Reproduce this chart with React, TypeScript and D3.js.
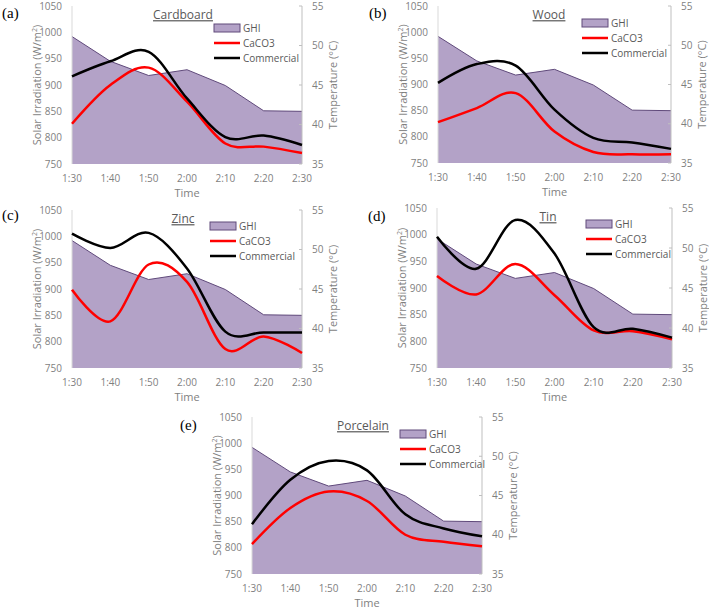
import React from "react";
import * as d3 from "d3";

const times = ["1:30", "1:40", "1:50", "2:00", "2:10", "2:20", "2:30"];
const ghi = [992, 945, 918, 929, 899, 851, 850];
const irrTicks = [750, 800, 850, 900, 950, 1000, 1050];
const tempTicks = [35, 40, 45, 50, 55];

const cardboardCaCO3 = [40.1, 45.0, 47.2, 42.9, 37.6, 37.2, 36.4];
const cardboardCommercial = [46.1, 48.0, 49.2, 43.3, 38.4, 38.6, 37.4];
const woodCaCO3 = [40.2, 42.0, 43.9, 39.0, 36.4, 36.1, 36.1];
const woodCommercial = [45.2, 47.6, 47.4, 41.8, 38.2, 37.6, 36.8];
const zincCaCO3 = [44.9, 40.9, 48.1, 45.9, 37.4, 39.0, 36.9];
const zincCommercial = [52.0, 50.2, 52.1, 47.6, 39.6, 39.5, 39.5];
const tinCaCO3 = [46.5, 44.2, 48.0, 44.1, 39.7, 39.6, 38.6];
const tinCommercial = [51.4, 47.4, 53.5, 49.3, 40.1, 39.9, 38.8];
const porcelainCaCO3 = [38.8, 43.4, 45.5, 44.3, 40.0, 39.1, 38.55];
const porcelainCommercial = [41.35, 47.0, 49.4, 48.2, 42.6, 40.8, 39.8];

const panels = [
  { tag: "(a)", title: "Cardboard", caco3: cardboardCaCO3, comm: cardboardCommercial,
    left: 72, top: 6, w: 230, h: 158, lab: [2, 18], leg: [214, 28] },
  { tag: "(b)", title: "Wood", caco3: woodCaCO3, comm: woodCommercial,
    left: 438, top: 6, w: 233, h: 157, lab: [369, 18], leg: [582, 23] },
  { tag: "(c)", title: "Zinc", caco3: zincCaCO3, comm: zincCommercial,
    left: 72, top: 210, w: 230, h: 158, lab: [2, 220], leg: [210, 226] },
  { tag: "(d)", title: "Tin", caco3: tinCaCO3, comm: tinCommercial,
    left: 437, top: 208, w: 235, h: 160, lab: [368, 221], leg: [586, 224] },
  { tag: "(e)", title: "Porcelain", caco3: porcelainCaCO3, comm: porcelainCommercial,
    left: 252, top: 417, w: 230, h: 157, lab: [180, 430], leg: [400, 434] },
];

const FONT = "'Open Sans', sans-serif";
const GRAY = "#7f7f7f";
const FILL = "#b3a2c7";
const EDGE = "#604a7b";

function Panel({ p }: { p: any }) {
  const x = d3.scalePoint<string>().domain(times).range([p.left, p.left + p.w]);
  const yI = d3.scaleLinear().domain([750, 1050]).range([p.top + p.h, p.top]);
  const yT = d3.scaleLinear().domain([35, 55]).range([p.top + p.h, p.top]);
  const area = d3
    .area<number>()
    .x((_, i) => x(times[i])!)
    .y0(yI(750))
    .y1((d) => yI(d));
  const top = d3
    .line<number>()
    .x((_, i) => x(times[i])!)
    .y((d) => yI(d));
  const smooth = d3
    .line<number>()
    .x((_, i) => x(times[i])!)
    .y((d) => yT(d))
    .curve(d3.curveCardinal.tension(0));
  const right = p.left + p.w;
  const bottom = p.top + p.h;
  const midY = p.top + p.h / 2;
  const [lx, ly] = p.leg;
  return (
    <g>
      <path d={area(ghi)!} fill={FILL} />
      <path d={top(ghi)!} fill="none" stroke={EDGE} strokeWidth={1} />
      <line x1={p.left} x2={p.left} y1={p.top} y2={bottom} stroke="#d9d9d9" strokeWidth={1} />
      <line x1={right} x2={right} y1={p.top} y2={bottom} stroke="#bfbfbf" strokeWidth={1} />
      {tempTicks.map((t) => (
        <line key={t} x1={right - 3} x2={right} y1={yT(t)} y2={yT(t)} stroke="#bfbfbf" />
      ))}
      <path d={smooth(p.caco3)!} fill="none" stroke="#ff0000" strokeWidth={2.5} />
      <path d={smooth(p.comm)!} fill="none" stroke="#000000" strokeWidth={2.5} />
      {irrTicks.map((t) => (
        <text key={t} x={p.left - 10} y={yI(t)} dy="0.35em" textAnchor="end" fontSize={10} fill={GRAY} fontFamily={FONT}>
          {t}
        </text>
      ))}
      {tempTicks.map((t) => (
        <text key={t} x={right + 10} y={yT(t)} dy="0.35em" textAnchor="start" fontSize={10} fill={GRAY} fontFamily={FONT}>
          {t}
        </text>
      ))}
      {times.map((t) => (
        <text key={t} x={x(t)} y={bottom + 17.5} textAnchor="middle" fontSize={10} fill={GRAY} fontFamily={FONT}>
          {t}
        </text>
      ))}
      <text x={(p.left + right) / 2} y={bottom + 32.5} textAnchor="middle" fontSize={11} fill={GRAY} fontFamily={FONT}>
        Time
      </text>
      <text
        transform={`translate(${p.left - 35},${midY}) rotate(-90)`}
        textAnchor="middle"
        dy="0.35em"
        fontSize={11}
        fill={GRAY}
        fontFamily={FONT}
      >
        Solar Irradiation (W/m<tspan dy={-4} fontSize={7}>2</tspan>
        <tspan dy={4}>)</tspan>
      </text>
      <text
        transform={`translate(${right + 31},${midY}) rotate(-90)`}
        textAnchor="middle"
        dy="0.35em"
        fontSize={11}
        fill={GRAY}
        fontFamily={FONT}
      >
        Temperature (°C)
      </text>
      <text x={p.left + 111} y={p.top + 9} dy="0.35em" textAnchor="middle" fontSize={12} fill="#595959" fontFamily={FONT} textDecoration="underline">
        {p.title}
      </text>
      <text x={p.lab[0]} y={p.lab[1]} fontSize={15} fill="#000" fontFamily="'Liberation Serif', serif">
        {p.tag}
      </text>
      <rect x={lx} y={ly - 4} width={26} height={8} fill={FILL} stroke={EDGE} strokeWidth={1} />
      <text x={lx + 29} y={ly} dy="0.35em" fontSize={10} fill="#595959" fontFamily={FONT}>GHI</text>
      <line x1={lx} x2={lx + 26} y1={ly + 15} y2={ly + 15} stroke="#ff0000" strokeWidth={2.5} />
      <text x={lx + 29} y={ly + 15} dy="0.35em" fontSize={10} fill="#595959" fontFamily={FONT}>CaCO3</text>
      <line x1={lx} x2={lx + 26} y1={ly + 30} y2={ly + 30} stroke="#000" strokeWidth={2.5} />
      <text x={lx + 29} y={ly + 30} dy="0.35em" fontSize={10} fill="#595959" fontFamily={FONT}>Commercial</text>
    </g>
  );
}

export default function App() {
  return (
    <svg width={709} height={608} style={{ position: "absolute", left: 0, top: 0, background: "#fff" }}>
      <rect width={709} height={608} fill="#fff" />
      {panels.map((p) => (
        <Panel key={p.tag} p={p} />
      ))}
    </svg>
  );
}
